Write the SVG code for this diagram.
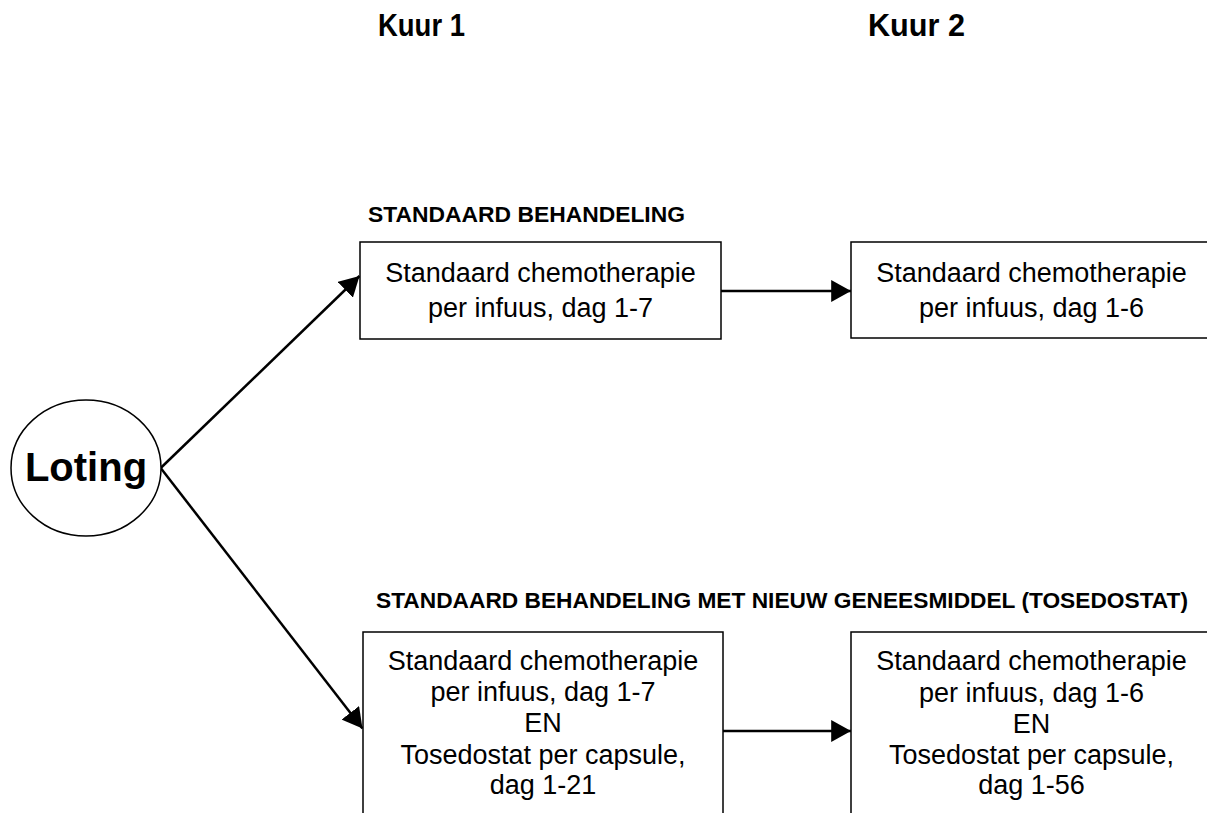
<svg xmlns="http://www.w3.org/2000/svg" width="1207" height="813" viewBox="0 0 1207 813">
<style>
.box{fill:#fff;stroke:#000;stroke-width:1.5}
.t{font-family:"Liberation Sans",Arial,sans-serif;font-size:27px;fill:#000;text-anchor:middle}
.lbl{font-family:"Liberation Sans",Arial,sans-serif;font-size:22.5px;font-weight:bold;fill:#000}
.kuur{font-family:"Liberation Sans",Arial,sans-serif;font-size:32px;font-weight:bold;fill:#000}
.conn{stroke:#000;stroke-width:2.5;fill:none}
</style>
<defs>
<marker id="ah" markerUnits="userSpaceOnUse" markerWidth="20" markerHeight="22" viewBox="0 0 18 20" refX="18" refY="10" orient="auto">
<path d="M0,0 L18,10 L0,20 Z" fill="#000"/>
</marker>
</defs>
<rect width="1207" height="813" fill="#fff"/>
<text class="kuur" x="378" y="36" textLength="87" lengthAdjust="spacingAndGlyphs">Kuur 1</text>
<text class="kuur" x="868" y="36" textLength="97" lengthAdjust="spacingAndGlyphs">Kuur 2</text>
<text class="lbl" x="368" y="222" textLength="317" lengthAdjust="spacingAndGlyphs">STANDAARD BEHANDELING</text>
<text class="lbl" x="376" y="608" textLength="812" lengthAdjust="spacingAndGlyphs">STANDAARD BEHANDELING MET NIEUW GENEESMIDDEL (TOSEDOSTAT)</text>
<g id="connectors">
<line class="conn" x1="160.7" y1="468" x2="359.5" y2="276" marker-end="url(#ah)"/>
<line class="conn" x1="160.7" y1="468" x2="362.5" y2="728.5" marker-end="url(#ah)"/>
<line class="conn" x1="721" y1="291" x2="851" y2="291" marker-end="url(#ah)"/>
<line class="conn" x1="723" y1="731" x2="851" y2="731" marker-end="url(#ah)"/>
</g>
<g id="loting">
<ellipse cx="86" cy="468" rx="75" ry="68" fill="#fff" stroke="#000" stroke-width="1.5"/>
<text x="86" y="481" font-family="'Liberation Sans',Arial,sans-serif" font-size="40" font-weight="bold" text-anchor="middle">Loting</text>
</g>
<g id="std-kuur1">
<rect class="box" x="360" y="242" width="361" height="97"/>
<text class="t" x="540.5" y="282">Standaard chemotherapie</text>
<text class="t" x="540.5" y="317">per infuus, dag 1-7</text>
</g>
<g id="std-kuur2">
<rect class="box" x="851" y="242" width="361" height="96"/>
<text class="t" x="1031.5" y="282">Standaard chemotherapie</text>
<text class="t" x="1031.5" y="317">per infuus, dag 1-6</text>
</g>
<g id="tos-kuur1">
<rect class="box" x="363" y="632" width="360" height="200"/>
<text class="t" x="543" y="669.5">Standaard chemotherapie</text>
<text class="t" x="543" y="701">per infuus, dag 1-7</text>
<text class="t" x="543" y="732">EN</text>
<text class="t" x="543" y="763.5">Tosedostat per capsule,</text>
<text class="t" x="543" y="793.5">dag 1-21</text>
</g>
<g id="tos-kuur2">
<rect class="box" x="851" y="632" width="361" height="200"/>
<text class="t" x="1031.5" y="670">Standaard chemotherapie</text>
<text class="t" x="1031.5" y="701.5">per infuus, dag 1-6</text>
<text class="t" x="1031.5" y="732.5">EN</text>
<text class="t" x="1031.5" y="763.5">Tosedostat per capsule,</text>
<text class="t" x="1031.5" y="793.5">dag 1-56</text>
</g>
</svg>
